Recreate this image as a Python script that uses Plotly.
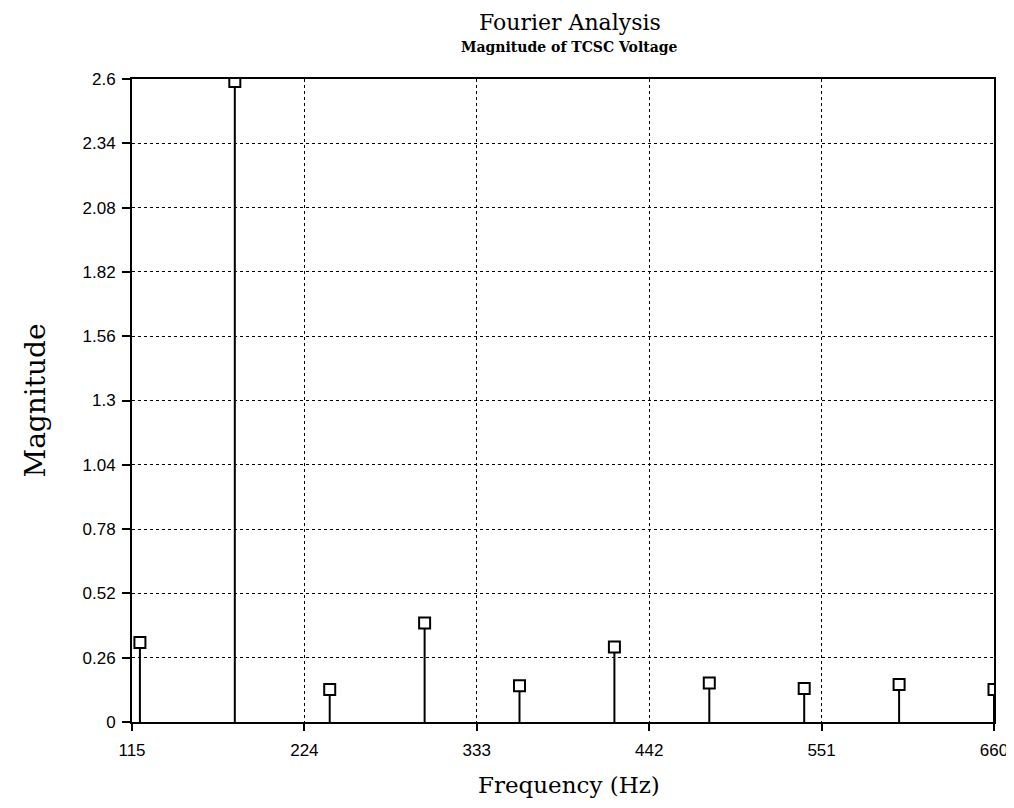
import plotly.graph_objects as go

freqs = [120, 180, 240, 300, 360, 420, 480, 540, 600, 660]
mags = [0.321, 2.59, 0.131, 0.40, 0.147, 0.303, 0.158, 0.135, 0.152, 0.131]
xticks = [115, 224, 333, 442, 551, 660]
yticks = [0, 0.26, 0.52, 0.78, 1.04, 1.3, 1.56, 1.82, 2.08, 2.34, 2.6]
ytick_text = ["0", "0.26", "0.52", "0.78", "1.04", "1.3", "1.56", "1.82", "2.08", "2.34", "2.6"]

stem_x, stem_y = [], []
for f, m in zip(freqs, mags):
    stem_x += [f, f, None]
    stem_y += [0, m, None]

fig = go.Figure()
fig.add_trace(go.Scatter(x=stem_x, y=stem_y, mode="lines",
                         line=dict(color="black", width=2), showlegend=False,
                         hoverinfo="skip"))
fig.add_trace(go.Scatter(x=freqs, y=mags, mode="markers",
                         marker=dict(symbol="square", size=11, color="white",
                                     line=dict(color="black", width=2)),
                         showlegend=False))

serif = "DejaVu Serif"
sans = "Liberation Sans"

fig.update_layout(
    width=1006, height=800,
    margin=dict(l=124, r=20, t=71, b=86),
    plot_bgcolor="white", paper_bgcolor="white",
    xaxis=dict(range=[115, 660], tickvals=xticks, ticktext=[str(v) for v in xticks],
               showgrid=True, gridcolor="black", griddash="dot", gridwidth=1,
               showline=True, linecolor="black", linewidth=2, mirror=True,
               ticks="outside", ticklen=7, tickwidth=2, tickcolor="black",
               ticklabelstandoff=5,
               zeroline=False, automargin=False,
               tickfont=dict(family=sans, size=17, color="black")),
    yaxis=dict(range=[0, 2.6], tickvals=yticks, ticktext=ytick_text,
               showgrid=True, gridcolor="black", griddash="dot", gridwidth=1,
               showline=True, linecolor="black", linewidth=2, mirror=True,
               ticks="outside", ticklen=8, tickwidth=2, tickcolor="black",
               ticklabelstandoff=3,
               zeroline=False, automargin=False,
               tickfont=dict(family=sans, size=17, color="black")),
    annotations=[
        dict(text="Fourier Analysis", x=0.5, y=1, xref="paper", yref="paper",
             xanchor="center", yanchor="middle", xshift=7, yshift=57,
             showarrow=False, font=dict(family=serif, size=22, color="black")),
        dict(text="<b>Magnitude of TCSC Voltage</b>", x=0.5, y=1, xref="paper", yref="paper",
             xanchor="center", yanchor="middle", xshift=6, yshift=32,
             showarrow=False, font=dict(family=serif, size=14, color="black")),
        dict(text="Frequency (Hz)", x=0.5, y=0, xref="paper", yref="paper",
             xanchor="center", yanchor="middle", xshift=6, yshift=-63,
             showarrow=False, font=dict(family=serif, size=23, color="black")),
        dict(text="Magnitude", x=0, y=0.5, xref="paper", yref="paper",
             xanchor="center", yanchor="middle", xshift=-97, textangle=-90,
             showarrow=False, font=dict(family=serif, size=28, color="black")),
    ],
)

fig.write_html("out.html")
